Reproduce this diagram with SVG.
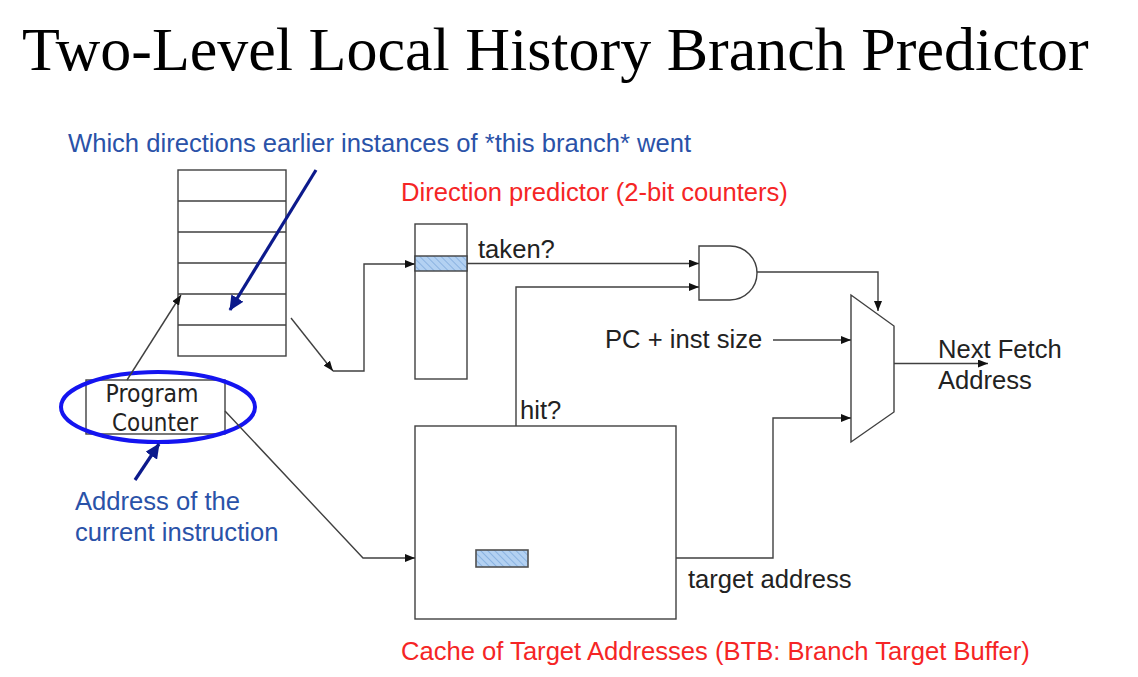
<svg xmlns="http://www.w3.org/2000/svg" width="1138" height="677" viewBox="0 0 1138 677">
<defs>
<style>
.box{fill:#fff;stroke:#404040;stroke-width:1.4}
.ln{fill:none;stroke:#404040;stroke-width:1.4}
.t{font-family:"Liberation Sans",Arial,sans-serif;font-size:25.6px;fill:#222}
.blue{fill:#2a52a8}
.red{fill:#f52525}
.nav{fill:none;stroke:#0c1a8c;stroke-width:3.2}
</style>
<pattern id="hatch" width="5" height="5" patternUnits="userSpaceOnUse" patternTransform="rotate(-45)">
<rect width="5" height="5" fill="#b3d1f2"/>
<line x1="0" y1="0" x2="0" y2="5" stroke="#7ea9dc" stroke-width="1.5"/>
</pattern>
<marker id="ah" markerWidth="10" markerHeight="8" refX="10" refY="4" orient="auto" markerUnits="userSpaceOnUse">
<path d="M0,0 L10,4 L0,8 Z" fill="#111"/>
</marker>
<marker id="bh" markerWidth="16" markerHeight="14" refX="14" refY="7" orient="auto" markerUnits="userSpaceOnUse">
<path d="M0,0 L15,7 L0,14 Z" fill="#0c1a8c"/>
</marker>
</defs>
<rect width="1138" height="677" fill="#fff"/>
<text x="22" y="70" font-family="'Liberation Serif','Times New Roman',serif" font-size="62" fill="#000">Two-Level Local History Branch Predictor</text>

<g id="history-table">
<rect class="box" x="178" y="170" width="108" height="186"/>
<path class="ln" d="M178,201H286M178,232H286M178,263H286M178,294H286M178,325H286"/>
</g>

<g id="program-counter">
<rect class="box" x="86" y="380" width="139" height="54"/>
<text x="152" y="402" text-anchor="middle" font-family="'DejaVu Sans',Tahoma,sans-serif" font-size="25" textLength="93" lengthAdjust="spacingAndGlyphs" fill="#222">Program</text>
<text x="155" y="431" text-anchor="middle" font-family="'DejaVu Sans',Tahoma,sans-serif" font-size="25" textLength="86" lengthAdjust="spacingAndGlyphs" fill="#222">Counter</text>
<ellipse cx="158" cy="407" rx="97" ry="35" fill="none" stroke="#1414f0" stroke-width="4"/>
</g>

<g id="direction-predictor">
<rect class="box" x="415" y="224" width="52" height="155"/>
<rect x="415" y="256" width="52" height="15" fill="url(#hatch)" stroke="#404040" stroke-width="1.4"/>
</g>

<g id="btb">
<rect class="box" x="415" y="426" width="261" height="193"/>
<rect x="476" y="550" width="52" height="17" fill="url(#hatch)" stroke="#505050" stroke-width="1.6"/>
</g>

<g id="and-gate">
<path class="box" d="M699,246H730A27,27 0 0 1 730,300H699Z"/>
</g>

<g id="mux">
<path class="box" d="M851,295L894,326V412L851,442Z"/>
</g>

<g id="connectors">
<line class="ln" x1="127" y1="380" x2="181" y2="295" marker-end="url(#ah)"/>
<line class="ln" x1="291" y1="318" x2="333" y2="371" marker-end="url(#ah)"/>
<polyline class="ln" points="333,371 364,371 364,264 415,264" marker-end="url(#ah)"/>
<polyline class="ln" points="225,411 363,558 415,558" marker-end="url(#ah)"/>
<line class="ln" x1="467" y1="263.5" x2="699" y2="263.5" marker-end="url(#ah)"/>
<polyline class="ln" points="516,426 516,287 699,287" marker-end="url(#ah)"/>
<polyline class="ln" points="757,272 878,272 878,311" marker-end="url(#ah)"/>
<line class="ln" x1="773" y1="340" x2="851" y2="340" marker-end="url(#ah)"/>
<polyline class="ln" points="676,558 773,558 773,418 851,418" marker-end="url(#ah)"/>
<line class="ln" x1="894" y1="363.5" x2="988" y2="363.5" marker-end="url(#ah)"/>
<line class="nav" x1="316" y1="170" x2="230" y2="310" marker-end="url(#bh)"/>
<line class="nav" x1="135" y1="480" x2="159" y2="444" marker-end="url(#bh)"/>
</g>

<g id="labels">
<text class="t blue" x="68" y="152">Which directions earlier instances of *this branch* went</text>
<text class="t red" x="401" y="201">Direction predictor (2-bit counters)</text>
<text class="t" x="478" y="258">taken?</text>
<text class="t" x="605" y="348">PC + inst size</text>
<text class="t" x="520" y="419">hit?</text>
<text class="t" x="938" y="358">Next Fetch</text>
<text class="t" x="938" y="389">Address</text>
<text class="t" x="688" y="588">target address</text>
<text class="t red" x="401" y="660">Cache of Target Addresses (BTB: Branch Target Buffer)</text>
<text class="t blue" x="75" y="510">Address of the</text>
<text class="t blue" x="75" y="541">current instruction</text>
</g>
</svg>
